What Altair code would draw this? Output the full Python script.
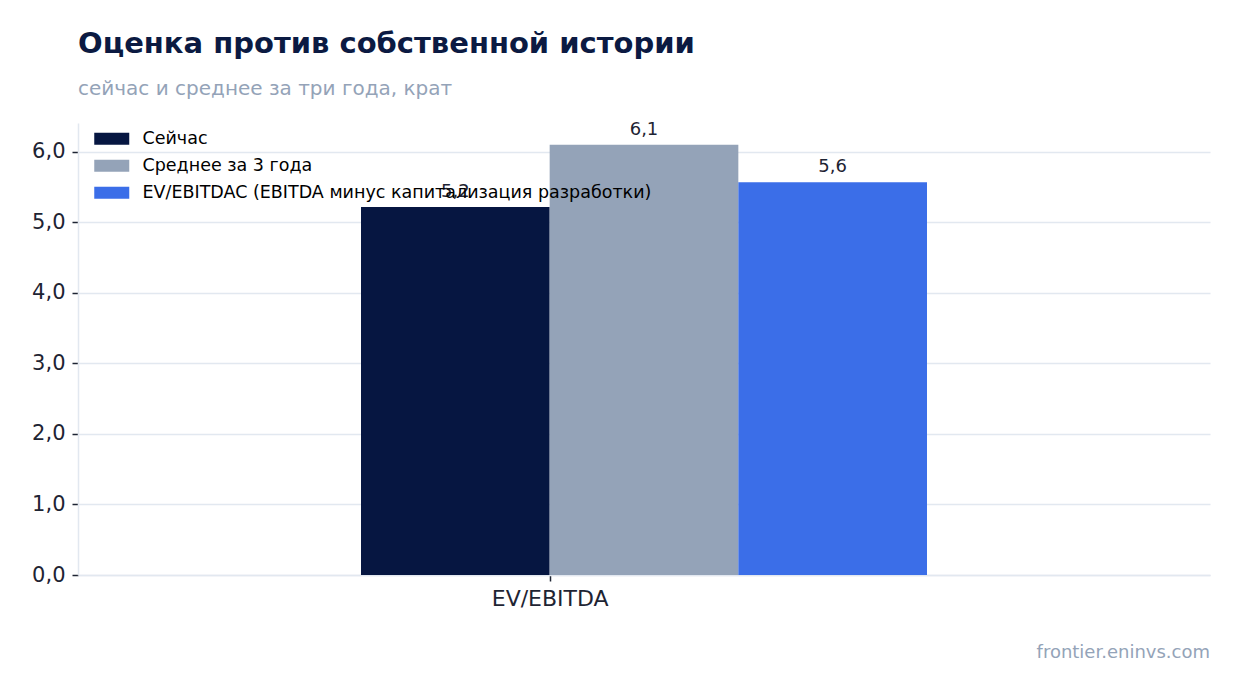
import altair as alt
import pandas as pd

# data
category = "EV/EBITDA"
series = ["Сейчас", "Среднее за 3 года", "EV/EBITDAC (EBITDA минус капитализация разработки)"]
values = [5.22, 6.10, 5.57]
colors = ["#061641", "#94a3b8", "#3b6ee8"]
y_ticks = [0, 1, 2, 3, 4, 5, 6]
source = "frontier.eninvs.com"

df = pd.DataFrame({"series": series, "value": values, "order": list(range(len(series)))})

FONT = "DejaVu Sans"
W, H = 1132, 452

base = alt.Chart(df).transform_calculate(
    start="datum.order - 1",
    end="datum.order",
    mid="datum.order - 0.5",
    label="replace(format(datum.value, '.1f'), '.', ',')",
)

x_scale = alt.Scale(domain=[-2.5, 3.5], nice=False, zero=False)
y_scale = alt.Scale(domain=[0, 6.41], nice=False)

bars = base.mark_bar().encode(
    x=alt.X("start:Q", scale=x_scale,
            axis=alt.Axis(values=[0], labelExpr=f"'{category}'", grid=False, title=None,
                          tickSize=6, tickWidth=1.5, labelFontSize=22, labelPadding=7)),
    x2="end:Q",
    y=alt.Y("value:Q", scale=y_scale,
            axis=alt.Axis(values=y_ticks, title=None, tickSize=6, tickWidth=1.5,
                          labelFontSize=21, labelPadding=7,
                          labelExpr="replace(format(datum.value, '.1f'), '.', ',')")),
    y2=alt.datum(0),
    color=alt.Color("series:N", scale=alt.Scale(domain=series, range=colors),
                    legend=alt.Legend(orient="none", legendX=25, legendY=7, title=None,
                                      symbolType="M-2.5,-0.86L2.5,-0.86L2.5,0.86L-2.5,0.86Z",
                                      symbolSize=196, symbolStrokeWidth=0, symbolOpacity=1,
                                      labelFontSize=17.5, labelColor="#000000", labelFont=FONT,
                                      labelOffset=22, rowPadding=8, padding=0,
                                      labelLimit=800)),
)

labels = base.mark_text(baseline="bottom", dy=-6, fontSize=18, color="#1e2433", font=FONT).encode(
    x=alt.X("mid:Q", scale=x_scale),
    y=alt.Y("value:Q", scale=y_scale),
    text="label:N",
)

src = alt.Chart(pd.DataFrame({"t": [source]})).mark_text(
    align="right", baseline="middle", fontSize=18, color="#94a3b8", font=FONT
).encode(x=alt.value(W), y=alt.value(530), text="t:N")

chart = alt.layer(bars, labels, src).properties(
    width=W,
    height=H,
    autosize=alt.AutoSizeParams(type="none"),
    padding={"left": 70, "top": 115, "right": 22, "bottom": 110},
    title=alt.TitleParams(
        "Оценка против собственной истории",
        subtitle="сейчас и среднее за три года, крат",
        anchor="start", frame="group", font=FONT, fontSize=29, fontWeight="bold",
        color="#0b1a42", subtitleFont=FONT, subtitleFontSize=20, subtitleColor="#94a3b8",
        subtitlePadding=20, offset=22,
    ),
).configure_view(stroke=None).configure_axis(
    labelFont=FONT, labelColor="#1e2433", gridColor="#e2e8f0", gridWidth=1.5,
    domainColor="#e2e8f0", domainWidth=1.5, tickColor="#1e2433",
)

chart.save("out.html", embed_options={"renderer": "svg", "actions": False})
